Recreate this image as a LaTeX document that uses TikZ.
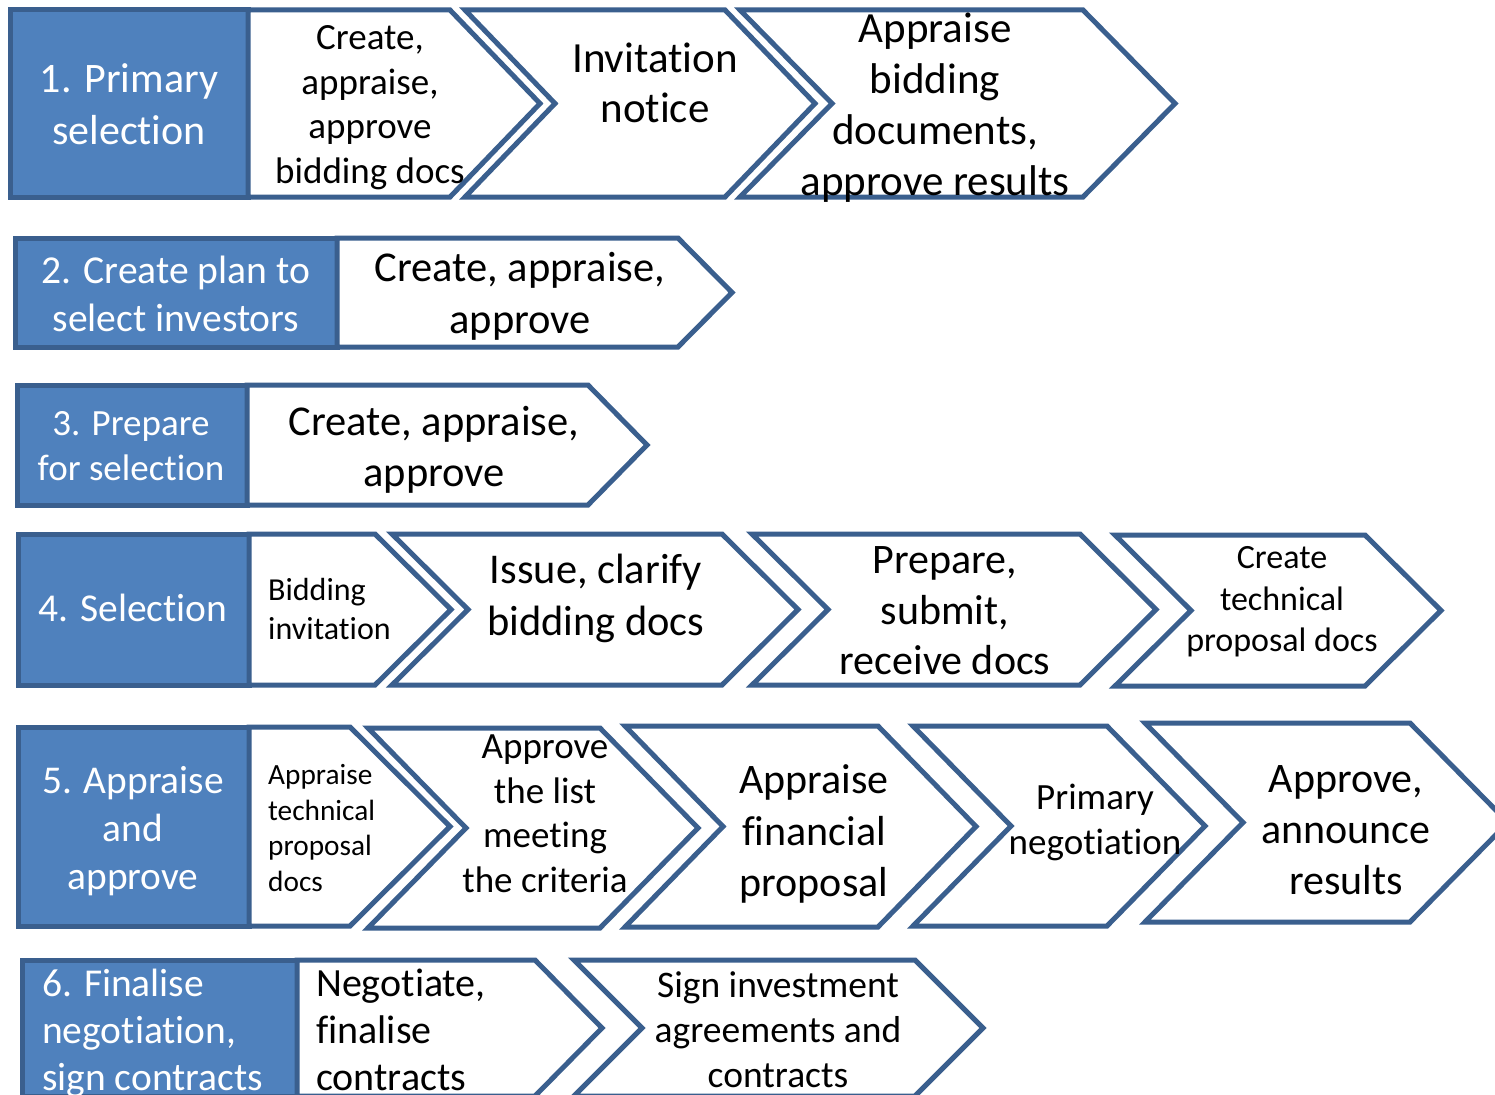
\documentclass[tikz,border=0pt]{standalone}
\usepackage{fontspec}
\setmainfont{Carlito}[Ligatures=NoCommon]
\definecolor{fillb}{HTML}{4F81BD}
\definecolor{bordc}{HTML}{3A5F8E}
\tikzset{
  shp/.style={draw=bordc, line width=5pt, line join=miter},
  bluebox/.style={shp, fill=fillb},
  whitebox/.style={shp, fill=white},
  lbl/.style={inner sep=0pt, align=center, text=black, anchor=center},
  wlbl/.style={lbl, text=white},
  llbl/.style={inner sep=0pt, align=left, text=black, anchor=west},
}
\newcommand\fs[2]{\fontsize{#1}{#2}\selectfont}
\newcommand\mypent[5]{%
  \pgfmathsetmacro\ym{(#3+#4)/2}\pgfmathsetmacro\xt{#2+#5}%
  \draw[whitebox] (#1,#3) -- (#2,#3) -- (\xt,\ym) -- (#2,#4) -- (#1,#4) -- cycle;}
\newcommand\mychev[5]{%
  \pgfmathsetmacro\ym{(#3+#4)/2}\pgfmathsetmacro\xt{#2+#5}\pgfmathsetmacro\xn{#1+#5}%
  \draw[whitebox] (#1,#3) -- (#2,#3) -- (\xt,\ym) -- (#2,#4) -- (#1,#4) -- (\xn,\ym) -- cycle;}
\begin{document}
\begin{tikzpicture}[x=1pt,y=-1pt]
\useasboundingbox (0,0) rectangle (1495,1094);
\fill[white] (0,0) rectangle (1495,1094);
\clip (0,0) rectangle (1495,1094);
% Row 1
\draw[bluebox] (10,10) rectangle (248,197);
\mypent{248}{450}{10}{197}{90}
\mychev{465}{725}{10}{197}{90}
\mychev{740}{1083}{10}{197}{92}
% Row 2
\draw[bluebox] (15,238) rectangle (337,347);
\mypent{337}{678}{238}{347}{54}
% Row 3
\draw[bluebox] (17,385) rectangle (247,505);
\mypent{247}{588}{385}{505}{59}
% Row 4
\draw[bluebox] (18,534) rectangle (249,685);
\mypent{249}{375}{534}{685}{76}
\mychev{392}{722}{534}{685}{76}
\mychev{752}{1080}{534}{685}{76}
\mychev{1115}{1365}{535}{686}{76}
% Row 5
\draw[bluebox] (18,727) rectangle (249,926);
\mypent{249}{350}{727}{926}{100}
\mychev{368}{600}{728}{928}{98}
\mychev{625}{878}{726}{927}{98}
\mychev{913}{1107}{726}{926}{98}
\mychev{1145}{1410}{723}{922}{98}
% Row 6
\draw[bluebox] (22,960) rectangle (297,1096);
\mypent{297}{535}{960}{1096}{67}
\mychev{574}{915}{960}{1096}{68}

% Texts
\node[wlbl, font=\fs{42}{52}] (t1) at (129,104) {1. Primary\\selection};
\node[lbl, font=\fs{37}{44.5}] (t1a) at (370,107.5) {Create,\\appraise,\\approve\\bidding docs};
\node[lbl, font=\fs{43}{50}] (t1b) at (655,83) {Invitation\\notice};
\node[lbl, font=\fs{43}{51}] (t1c) at (935,108) {Appraise\\bidding\\documents,\\approve results};

\node[wlbl, font=\fs{39.6}{48}] (t2) at (176,294) {2. Create plan to\\select investors};
\node[lbl, font=\fs{42.5}{52}] (t2a) at (520,296) {Create, appraise,\\approve};

\node[wlbl, font=\fs{37}{45}] (t3) at (131,446) {3. Prepare\\for selection};
\node[lbl, font=\fs{42.5}{51}] (t3a) at (434,450) {Create, appraise,\\approve};

\node[wlbl, font=\fs{39.5}{48}] (t4) at (133,608) {4. Selection};
\node[llbl, font=\fs{32}{39}] (t4a) at (268,609) {Bidding\\invitation};
\node[lbl, font=\fs{42.4}{52}] (t4b) at (596,598) {Issue, clarify\\bidding docs};
\node[lbl, font=\fs{42}{50.5}] (t4c) at (945,611) {Prepare,\\submit,\\receive docs};
\node[lbl, font=\fs{34}{41.5}] (t4d) at (1282,602) {Create\\technical\\proposal docs};

\node[wlbl, font=\fs{39.4}{48}] (t5) at (133,831) {5. Appraise\\and\\approve};
\node[llbl, font=\fs{29.3}{35.5}] (t5a) at (268,828) {Appraise\\technical\\proposal\\docs};
\node[lbl, font=\fs{37}{44.5}] (t5b) at (545,814) {Approve\\the list\\meeting\\the criteria};
\node[lbl, font=\fs{42}{51.5}] (t5c) at (814,834) {Appraise\\financial\\proposal};
\node[lbl, font=\fs{37}{45}] (t5d) at (1095,822) {Primary\\negotiation};
\node[lbl, font=\fs{42}{51}] (t5e) at (1346,830) {Approve,\\announce\\results};

\node[llbl, text=white, font=\fs{39.5}{47}] (t6) at (42,1033) {6. Finalise\\negotiation,\\sign contracts};
\node[llbl, font=\fs{40}{47}] (t6a) at (316,1030) {Negotiate,\\finalise\\contracts};
\node[lbl, font=\fs{37.5}{45}] (t6b) at (778,1030) {Sign investment\\agreements and\\contracts};
\end{tikzpicture}
\end{document}
